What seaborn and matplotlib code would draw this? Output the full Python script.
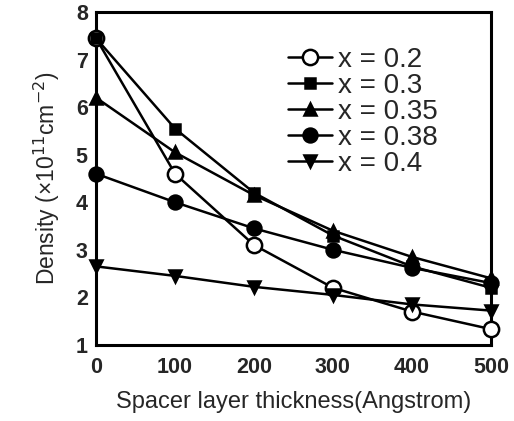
import numpy as np
import pandas as pd
import matplotlib
matplotlib.use("Agg")
import matplotlib.pyplot as plt
import seaborn as sns

# données
thickness = [0, 100, 200, 300, 400, 500]
labels = ["x=0.2", "x=0.3", "x=0.35", "x=0.38", "x=0.4"]
d_02 = [7.45, 4.6, 3.1, 2.2, 1.7, 1.33]
d_03 = [7.45, 5.55, 4.2, 3.3, 2.65, 2.2]
d_035 = [6.2, 5.05, 4.15, 3.4, 2.85, 2.4]
d_038 = [4.6, 4.0, 3.45, 3.0, 2.62, 2.3]
d_04 = [2.65, 2.45, 2.22, 2.05, 1.85, 1.72]

series = [d_02, d_03, d_035, d_038, d_04]
markers = ["o", "s", "^", "o", "v"]
faces = ["white", "black", "black", "black", "black"]
sizes = [11, 7, 8, 10, 8]

sns.set_theme(style="white")
plt.rcParams['font.family'] = ['Liberation Sans', 'DejaVu Sans']

fig = plt.figure(figsize=(5.14, 4.21), dpi=100)
ax = fig.add_axes([0.187, 0.181, 0.768, 0.79])

for lab, vals, m, fc, ms in zip(labels, series, markers, faces, sizes):
    df = pd.DataFrame({"t": thickness, "d": vals})
    sns.lineplot(data=df, x="t", y="d", ax=ax, color="black", lw=1.8,
                 marker=m, markersize=ms, markerfacecolor=fc,
                 markeredgecolor="black", markeredgewidth=1.8, label=lab,
                 clip_on=False, zorder=3)

ax.set_xlim(0, 500)
ax.set_ylim(1, 8)
ax.set_xticks(thickness)
ax.set_yticks(range(1, 9))
ax.tick_params(direction="in", length=6, width=2, labelsize=15.5,
               top=False, right=False)
ax.tick_params(axis="x", pad=9)
ax.tick_params(axis="y", pad=6)
for t in ax.get_xticklabels() + ax.get_yticklabels():
    t.set_fontweight("bold")
for s in ax.spines.values():
    s.set_linewidth(2.2)
    s.set_color("black")
    s.set_visible(True)
ax.set_xlabel("Spacer layer thickness(Angstrom)", fontsize=17, labelpad=9)
ax.set_ylabel("Density (×10$^{11}$cm$^{-2}$)", fontsize=16.5, labelpad=10)

leg = ax.legend(loc="upper left", bbox_to_anchor=(0.485, 0.895), frameon=False,
                fontsize=20, handlelength=1.6, handletextpad=0.2,
                labelspacing=0.0, borderaxespad=0, borderpad=0)
for t in leg.get_texts():
    t.set_text(t.get_text().replace("=", " = "))

fig.savefig("out.png", dpi=100)
